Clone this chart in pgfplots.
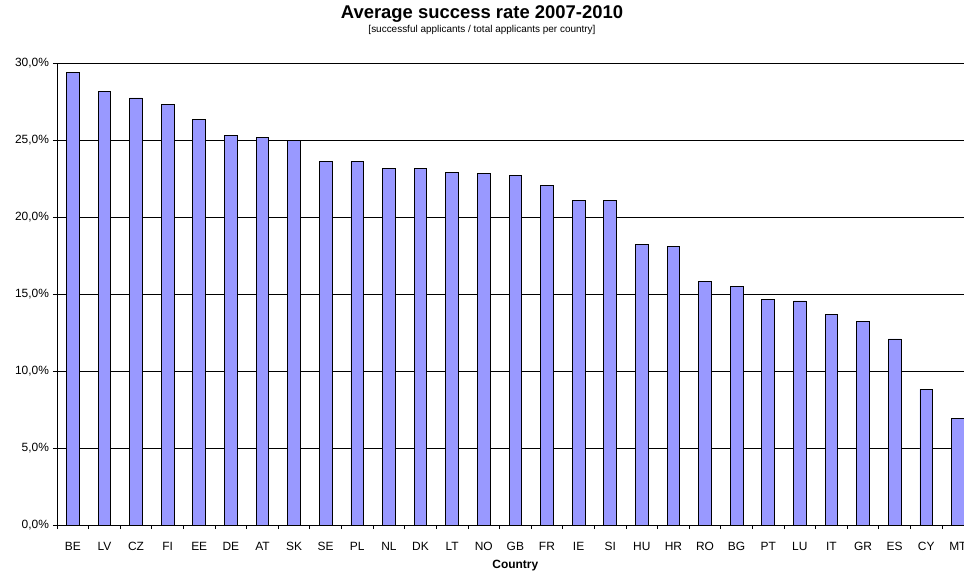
\documentclass[border=0pt]{standalone}
\usepackage{pgfplots}
\pgfplotsset{compat=1.18}
\usepackage{fontspec}
\setmainfont{Liberation Sans}
\definecolor{barblue}{HTML}{9999FF}

\begin{document}
\begin{tikzpicture}
\begin{axis}[
  scale only axis,
  width=916.7bp, height=462bp,
  xmin=-0.5, xmax=28.5,
  ymin=0, ymax=30,
  axis x line*=bottom, axis y line*=left,
  ytick={0,5,...,30},
  yticklabels={{0,0\%},{5,0\%},{10,0\%},{15,0\%},{20,0\%},{25,0\%},{30,0\%}},
  xtick={0,...,28},
  xticklabels={BE,LV,CZ,FI,EE,DE,AT,SK,SE,PL,NL,DK,LT,NO,GB,FR,IE,SI,HU,HR,RO,BG,PT,LU,IT,GR,ES,CY,MT},
  major x tick style={draw=none},
  minor xtick={-0.5,0.5,...,28.5},
  ymajorgrids,
  major grid style={black, line width=0.8bp},
  tick align=outside,
  major tick length=4bp, minor tick length=4bp,
  tick style={black, line width=0.8bp},
  axis line style={black, line width=0.9bp},
  ticklabel style={font=\fontsize{12}{13}\selectfont},
  yticklabel style={xshift=-0.5bp},
  xticklabel style={yshift=-9.5bp},
  xlabel={Country},
  xlabel style={font=\fontsize{12}{13}\selectfont\bfseries, at={(rel axis cs:0.5,0)}, anchor=center, yshift=-41bp},
  clip=false,
]
\addplot[ybar, bar width=12.7bp, fill=barblue, draw=black, line width=0.8bp] coordinates {
  (0,29.36) (1,28.17) (2,27.73) (3,27.28) (4,26.31) (5,25.31) (6,25.18)
  (7,24.97) (8,23.60) (9,23.60) (10,23.17) (11,23.13) (12,22.91) (13,22.85)
  (14,22.70) (15,22.07) (16,21.10) (17,21.08) (18,18.22) (19,18.11) (20,15.80)
  (21,15.50) (22,14.66) (23,14.55) (24,13.70) (25,13.23) (26,12.08) (27,8.80)
  (28,6.92)
};
\coordinate (o) at (rel axis cs:0,0);
\end{axis}
\node[font=\fontsize{18.5}{20}\selectfont\bfseries] at ([xshift=425bp,yshift=511bp]o) {Average success rate 2007-2010};
\node[font=\fontsize{10}{11}\selectfont] at ([xshift=425bp,yshift=495.5bp]o) {[successful applicants / total applicants per country]};
\pgfresetboundingbox
\path[use as bounding box] ([xshift=-57bp,yshift=-48bp]o) rectangle ([xshift=907bp,yshift=525bp]o);
\end{tikzpicture}
\end{document}
